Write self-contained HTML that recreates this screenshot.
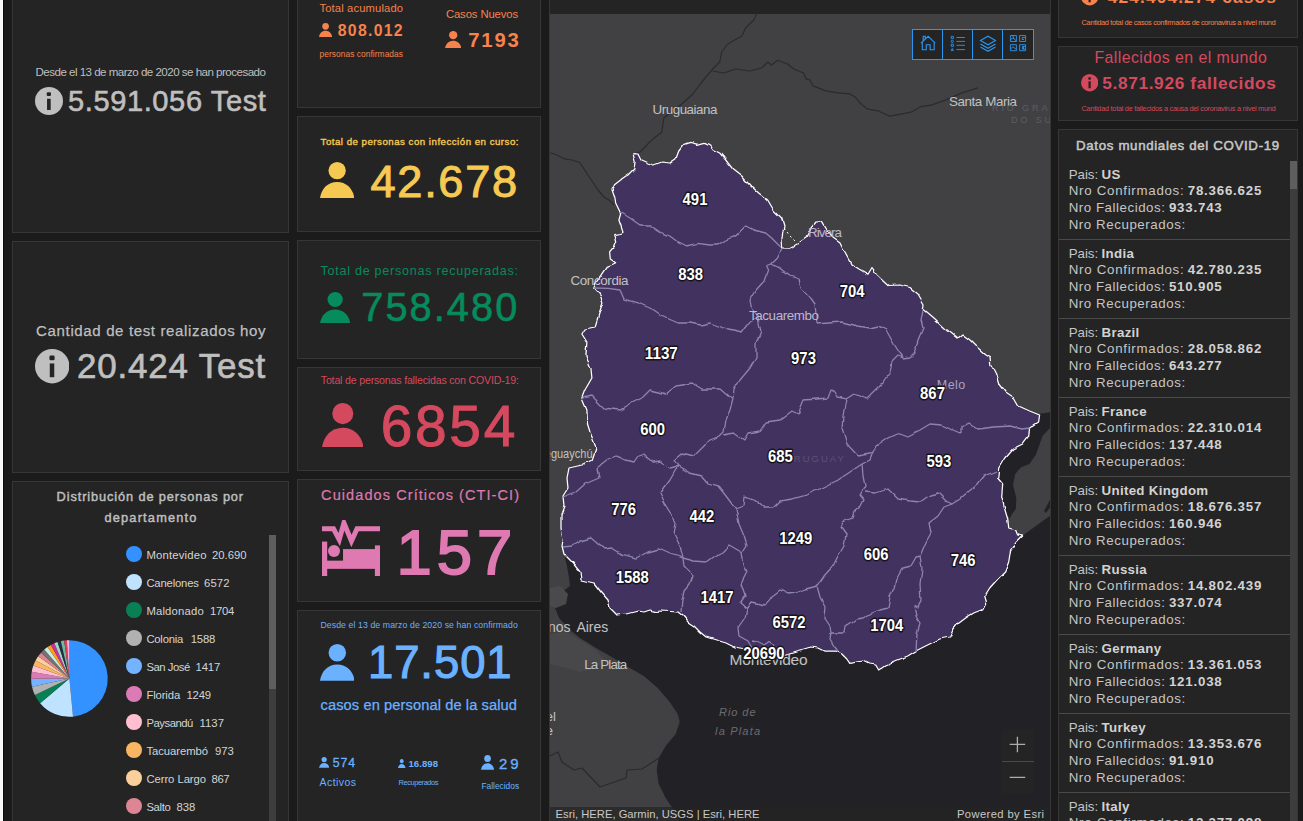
<!DOCTYPE html><html lang="es"><head><meta charset="utf-8"><title>COVID-19 Uruguay</title><style>

html,body{margin:0;padding:0;width:1303px;height:821px;overflow:hidden;background:#1b1b1b}
#app{width:1303px;height:821px;overflow:hidden;background:#1b1b1b;position:relative;font-family:"Liberation Sans", sans-serif;}
.edge{position:absolute;top:0;height:821px}
.panel{position:absolute;box-sizing:border-box;background:#242424;border:1px solid #363636}
.t{position:absolute;white-space:nowrap;line-height:1;margin:0}
.ic{position:absolute;display:block}
.dot{position:absolute;width:15.8px;height:15.8px;border-radius:50%}
.sb{position:absolute;width:7px}
.clip{position:absolute;overflow:hidden;top:0;height:821px}
#map{position:absolute;left:549px;top:-10px;width:502px;height:850px;box-sizing:border-box;border:1px solid #363636;background:#242424}
#map svg{position:absolute;left:0;top:23px}
.row{position:absolute;left:1059px;width:231px;height:79px;box-sizing:border-box;border-bottom:1px solid #4a4a4a;color:#c4c4c4;font-size:13px;line-height:17px;}
.row b{color:#d0d0d0}
.tool{position:absolute;left:912px;top:29px;width:122px;height:31px;box-sizing:border-box;border:1px solid #2b97f0;background:#242424}
.tool i{position:absolute;top:0;width:1px;height:29px;background:#2b97f0}
.zoom{position:absolute;left:1002px;top:729px;width:32px;height:64px;background:#242424}
.attr{position:absolute;left:550px;top:807px;width:500px;height:14px;background:rgba(36,36,36,.72)}

</style></head><body><div id="app">
<div class="edge" style="left:0;width:2px;background:#fafafa"></div><div class="edge" style="left:2px;width:1px;background:#fff"></div><div class="edge" style="left:3px;width:1px;background:#0b0b0b"></div>
<div class="panel" style="left:12px;top:-10px;width:277px;height:243px"></div>
<div class="panel" style="left:12px;top:241px;width:277px;height:232px"></div>
<div class="panel" style="left:12px;top:481px;width:277px;height:360px"></div>
<div class="panel" style="left:297px;top:-10px;width:244px;height:118px"></div>
<div class="panel" style="left:297px;top:116px;width:244px;height:116px"></div>
<div class="panel" style="left:297px;top:240px;width:244px;height:119px"></div>
<div class="panel" style="left:297px;top:367px;width:244px;height:104px"></div>
<div class="panel" style="left:297px;top:479px;width:244px;height:123px"></div>
<div class="panel" style="left:297px;top:610px;width:244px;height:230px"></div>
<div class="panel" style="left:1058px;top:-10px;width:240px;height:48px"></div>
<div class="panel" style="left:1058px;top:46px;width:240px;height:75px"></div>
<div class="panel" style="left:1058px;top:129px;width:240px;height:710px"></div>
<div id="map">
<svg width="500" height="807" viewBox="550 14 500 807">
<rect x="550" y="14" width="500" height="807" fill="#414143"/>
<polygon points="563.0,548.0 565.0,558.0 567.0,566.0 569.0,578.0 570.0,586.0 562.0,592.0 556.0,598.0 555.0,608.0 559.0,618.0 570.0,630.0 580.0,638.0 596.0,648.0 610.0,656.0 629.8,668.0 643.8,676.0 657.7,688.0 669.7,702.0 677.7,714.0 679.7,722.0 675.7,734.0 665.7,746.0 658.7,758.0 656.7,770.0 658.7,784.0 665.7,798.0 671.7,807.0 680.0,822.0 1051.0,822.0 1051.0,515.0 1022.0,536.0 1000.0,560.0 900.0,600.0 700.0,600.0 600.0,560.0" fill="#222226"/>
<polygon points="1038.0,414.0 1051.0,412.0 1051.0,427.0 1042.5,436.0 1039.0,446.0 1036.0,454.5 1029.4,464.0 1020.7,467.6 1015.2,474.0 1013.0,485.0 1016.3,498.0 1015.8,509.0 1012.0,514.0 1008.6,521.0 1004.0,508.0 1001.0,496.0 1002.0,484.0 997.0,478.0 998.0,468.0 1004.0,458.0 1012.0,449.0 1022.0,444.0 1028.0,436.0 1029.0,428.0" fill="#222226"/><polygon points="1044.0,511.0 1051.0,498.0 1051.0,506.0 1046.0,513.0" fill="#222226"/>
<polygon points="550,588 560,586 568,594 566,604 556,608 550,606" fill="#4a4a4c"/>
<polygon points="550,634 566,632 580,640 596,650 604,660 596,668 580,672 566,668 550,664" fill="#48484a"/>
<polyline points="756.7,14.0 753.7,20.0 745.7,28.0 741.7,36.0 727.7,44.0 721.7,52.0 719.7,62.0 712.7,69.0 701.8,82.0 692.8,94.0 681.8,104.0 663.8,118.0 661.8,132.0 651.8,140.0 639.9,152.0 633.9,154.0" fill="none" stroke="#2b2b2d" stroke-width="1.2" stroke-linejoin="round"/>
<polyline points="712.7,71.0 723.7,73.0 735.7,69.0 749.7,71.0 761.7,68.0 767.7,62.0 771.6,65.0 777.6,60.3 787.6,64.0 793.6,69.0 803.6,73.0 806.0,78.9 810.0,79.9 813.0,85.9 826.0,90.9 838.0,92.9 850.0,93.9 855.0,96.9 861.0,103.9 867.0,108.8 878.0,110.8 890.0,116.2 902.0,113.8 912.0,111.8 920.0,106.9 932.0,104.9 946.0,99.9 962.0,92.9 978.0,87.9" fill="none" stroke="#2b2b2d" stroke-width="1.2" stroke-linejoin="round"/>
<polyline points="550.0,152.7 557.0,155.0 564.0,158.8 572.0,160.0 580.0,162.8 586.0,172.0 592.0,181.0 598.0,190.0 604.0,197.0 609.0,200.0 614.0,205.0" fill="none" stroke="#2b2b2d" stroke-width="1.2" stroke-linejoin="round"/>
<polyline points="550.0,756.0 558.0,752.0 562.0,762.0 574.0,770.0 582.0,768.0 600.0,787.0 626.0,778.0 627.0,770.0 642.0,769.0 659.0,758.0" fill="none" stroke="#2b2b2d" stroke-width="1.2" stroke-linejoin="round"/>
<defs><filter id="jag" x="-2%" y="-2%" width="104%" height="104%"><feTurbulence type="fractalNoise" baseFrequency="0.1" numOctaves="1" seed="7" result="n"/><feDisplacementMap in="SourceGraphic" in2="n" scale="4.5" xChannelSelector="R" yChannelSelector="G"/></filter></defs>
<g filter="url(#jag)">
<polygon points="632.9,153.6 637.9,154.0 640.9,160.0 647.8,163.0 653.8,165.0 661.8,162.0 669.8,163.0 675.8,159.0 678.8,151.0 683.8,144.4 689.8,142.4 697.8,144.4 704.8,142.4 709.7,145.0 712.7,149.6 719.7,153.0 725.7,160.0 732.7,169.0 741.7,176.0 749.7,185.0 758.7,193.0 767.7,200.0 773.6,210.0 781.6,218.0 784.0,226.0 782.0,238.0 782.6,247.8 789.6,248.2 797.6,243.8 806.0,238.0 812.0,227.0 816.0,222.0 821.0,221.6 826.0,230.0 833.0,238.0 840.0,243.0 845.0,253.0 851.0,264.0 859.0,269.0 868.0,274.3 872.0,267.5 877.0,274.3 883.0,280.0 889.0,285.5 899.0,285.0 910.0,287.5 918.0,294.0 924.0,304.0 923.4,309.0 934.0,318.0 946.0,329.0 957.0,338.0 962.0,334.0 970.0,340.0 978.0,348.0 985.0,354.0 990.0,357.0 990.7,364.0 995.7,374.0 998.7,384.0 1005.7,393.0 1014.6,399.0 1018.6,406.0 1029.6,411.0 1039.6,415.0 1038.6,422.0 1029.6,428.0 1028.6,436.0 1022.6,444.0 1012.6,449.0 1004.7,458.0 998.7,468.0 997.7,478.0 1002.7,484.0 1001.7,496.0 1004.7,508.0 1007.7,518.0 1008.7,528.0 1015.6,530.0 1017.6,535.0 1021.6,536.0 1015.6,542.0 1010.6,550.0 1008.7,562.0 1004.7,572.0 997.7,579.0 989.7,588.0 984.7,596.0 986.7,603.0 983.7,609.0 973.7,613.0 965.7,618.0 957.7,624.0 953.0,630.0 949.7,637.0 939.7,639.0 925.6,646.0 915.7,651.0 907.7,656.0 897.7,660.0 885.7,665.0 878.7,670.0 875.7,665.0 869.7,664.0 863.7,661.0 855.8,662.0 849.8,663.4 846.8,659.0 841.8,654.0 835.8,651.0 823.8,651.0 817.8,648.0 810.8,647.0 803.8,649.0 795.8,651.0 787.9,653.5 783.9,654.5 775.0,656.0 766.0,657.0 758.0,655.0 750.0,651.0 742.9,648.5 734.0,647.0 726.0,643.0 716.0,640.0 706.0,637.0 700.0,632.0 694.0,626.0 688.0,622.0 683.0,616.0 678.0,612.0 662.0,611.0 656.0,611.5 650.0,610.0 644.0,612.0 638.0,611.0 626.0,614.0 617.0,615.0 610.0,608.0 608.0,600.0 601.0,592.0 594.0,583.0 581.0,580.0 580.0,572.0 572.0,562.0 564.0,554.0 562.0,546.0 563.0,540.0 561.0,528.0 561.0,514.0 564.0,506.0 563.0,496.0 568.0,488.0 567.0,478.0 569.0,468.0 582.0,465.0 592.0,460.0 596.0,448.0 594.0,442.0 590.0,432.0 587.5,424.0 586.9,410.0 581.9,398.0 584.9,390.0 591.9,378.0 590.9,368.0 585.9,356.0 586.9,342.0 581.9,334.0 584.9,329.0 594.9,327.0 598.9,314.0 602.9,302.0 599.9,295.0 597.4,292.0 593.8,288.3 596.2,282.3 602.3,273.7 607.2,266.4 613.3,264.0 615.7,262.8 610.3,259.0 609.6,251.8 613.7,247.0 615.7,242.0 613.7,234.7 619.3,233.5 623.0,232.3 620.6,225.0 618.9,220.0 620.6,214.0 619.3,210.4 615.7,203.0 614.5,197.0 612.0,189.7 614.5,184.8 620.6,180.0 627.9,175.0 633.9,169.0 635.2,161.7" fill="#43335f" stroke="#ffffff" stroke-width="1.25" stroke-linejoin="round"/>
<polyline points="619.9,212.0 629.9,218.0 639.9,225.0 649.8,225.0 659.8,232.0 669.8,236.0 677.8,242.0 685.8,246.0 697.8,243.4 709.7,245.0 717.7,245.0 725.7,240.0 735.7,236.0 741.7,230.0 745.7,226.0 753.7,230.0 765.7,233.0 771.6,238.0 777.6,244.0 782.0,248.0" fill="none" stroke="#8d84ae" stroke-width="1.3" stroke-linejoin="round"/>
<polyline points="782.0,248.0 777.6,258.0 771.6,264.0 766.6,266.0 768.6,270.0 765.0,280.0 756.0,290.0 750.0,300.0 751.0,306.0 758.0,318.0" fill="none" stroke="#8d84ae" stroke-width="1.3" stroke-linejoin="round"/>
<polyline points="771.6,264.0 779.6,268.0 789.6,276.0 799.0,279.0 801.0,288.0 810.0,297.0 815.0,304.0 816.0,316.0 817.0,324.0 828.0,323.0 842.0,322.0 858.0,326.0 870.0,328.0 878.0,326.0 886.0,330.0 894.0,344.0 899.0,352.0 904.0,358.0" fill="none" stroke="#8d84ae" stroke-width="1.3" stroke-linejoin="round"/>
<polyline points="923.4,309.0 921.0,320.0 923.0,328.0 918.0,340.0 915.0,348.0 916.0,352.0 910.0,358.0 904.0,359.0" fill="none" stroke="#8d84ae" stroke-width="1.3" stroke-linejoin="round"/>
<polyline points="904.0,358.0 898.0,356.0 892.0,362.0 890.0,373.0 884.0,382.0 876.0,390.0 867.0,399.0 854.0,394.0 846.0,399.0" fill="none" stroke="#8d84ae" stroke-width="1.3" stroke-linejoin="round"/>
<polyline points="846.0,399.0 838.0,397.0 835.0,392.0 831.0,390.0 828.0,398.0 816.0,399.0 804.0,400.0 798.0,414.0 792.0,411.0 780.0,420.0 766.0,422.0 760.0,431.0 748.0,433.0 744.0,440.0 734.0,433.0 724.0,435.0" fill="none" stroke="#8d84ae" stroke-width="1.3" stroke-linejoin="round"/>
<polyline points="846.0,399.0 843.0,416.0 842.0,428.0 847.0,444.0 858.0,456.0 870.0,454.0 873.0,452.0" fill="none" stroke="#8d84ae" stroke-width="1.3" stroke-linejoin="round"/>
<polyline points="873.0,452.0 876.0,446.0 888.0,438.0 900.0,433.0 908.0,436.0 920.0,430.0 930.0,424.0 942.0,425.0 954.0,431.0 961.0,434.0 961.0,426.0 968.0,422.0 978.0,429.0 994.0,427.0 1010.0,426.0 1022.0,429.0 1029.6,428.0" fill="none" stroke="#8d84ae" stroke-width="1.3" stroke-linejoin="round"/>
<polyline points="873.0,452.0 870.0,460.0 862.0,464.0 850.0,472.0 838.0,480.0 822.0,488.0 806.0,495.0 792.0,499.0 780.0,501.0 774.0,507.0 764.0,507.0 758.0,502.0 745.0,497.0 744.0,506.0 736.0,509.0" fill="none" stroke="#8d84ae" stroke-width="1.3" stroke-linejoin="round"/>
<polyline points="862.0,464.0 863.0,476.0 865.0,486.0 860.0,495.0 864.0,500.0 861.0,506.0 854.0,512.0 852.0,518.0 843.0,522.0 841.0,527.0 846.0,534.0 844.0,546.0 838.0,556.0 833.0,566.0 824.0,576.0 817.0,586.0" fill="none" stroke="#8d84ae" stroke-width="1.3" stroke-linejoin="round"/>
<polyline points="865.0,492.0 876.0,493.0 888.0,489.0 898.0,499.0 910.0,501.0 920.0,502.0 930.0,495.0 938.0,493.0 946.0,501.0 952.0,504.0 960.0,499.0 968.0,492.0 978.0,484.0 984.0,476.0 996.0,471.0" fill="none" stroke="#8d84ae" stroke-width="1.3" stroke-linejoin="round"/>
<polyline points="952.0,504.0 944.0,507.0 938.0,516.0 929.0,523.0 931.0,533.0 926.0,542.0 920.0,556.0" fill="none" stroke="#8d84ae" stroke-width="1.3" stroke-linejoin="round"/>
<polyline points="920.0,556.0 922.0,568.0 920.0,584.0 921.0,600.0 918.0,608.0 914.0,606.0 916.0,616.0 920.0,624.0 917.0,634.0 916.0,651.0" fill="none" stroke="#8d84ae" stroke-width="1.3" stroke-linejoin="round"/>
<polyline points="920.0,556.0 915.0,557.0 910.0,566.0 902.0,568.0 896.0,579.0 894.0,588.0 890.0,597.0 888.0,608.0 880.0,610.0 872.0,613.0 864.0,618.0 856.0,619.0 845.0,627.0 844.0,633.0 831.0,633.0" fill="none" stroke="#8d84ae" stroke-width="1.3" stroke-linejoin="round"/>
<polyline points="817.0,586.0 806.0,589.0 796.0,593.0 788.0,594.0 780.0,590.0 772.0,596.0 766.0,605.0 752.0,602.0 747.0,609.0" fill="none" stroke="#8d84ae" stroke-width="1.3" stroke-linejoin="round"/>
<polyline points="817.0,586.0 820.0,597.0 825.0,607.0 824.0,617.0 830.0,626.0 831.0,633.0 830.0,639.0 834.0,646.0 838.0,651.0" fill="none" stroke="#8d84ae" stroke-width="1.3" stroke-linejoin="round"/>
<polyline points="594.0,288.0 608.0,288.4 620.0,290.0 624.0,299.0 638.0,303.0 652.0,309.0 662.0,316.0 678.0,323.0 690.0,323.0 700.0,325.0 710.0,323.0 724.0,328.0 742.0,332.0 748.0,324.0 758.0,318.0" fill="none" stroke="#8d84ae" stroke-width="1.3" stroke-linejoin="round"/>
<polyline points="758.0,318.0 761.0,332.0 756.0,344.0 756.0,358.0 750.0,368.0 740.0,380.0 734.0,390.0 733.0,398.0" fill="none" stroke="#8d84ae" stroke-width="1.3" stroke-linejoin="round"/>
<polyline points="583.0,398.0 592.0,396.0 598.0,402.0 604.0,408.0 620.0,410.0 630.0,404.0 642.0,398.0 650.0,390.0 666.0,394.0 676.0,386.0 692.0,383.0 702.0,389.0 720.0,389.0 728.0,396.0 733.0,398.0" fill="none" stroke="#8d84ae" stroke-width="1.3" stroke-linejoin="round"/>
<polyline points="733.0,398.0 730.0,410.0 726.0,420.0 724.0,432.0 720.0,436.0 710.0,440.0 702.0,448.0 694.0,456.0 682.0,453.0 674.0,460.0 678.0,466.0" fill="none" stroke="#8d84ae" stroke-width="1.3" stroke-linejoin="round"/>
<polyline points="563.0,497.0 576.0,492.0 585.0,484.0 599.0,478.0 597.0,468.0 608.0,459.0 616.0,456.0 626.0,460.0 634.0,462.0 638.0,456.0 644.0,454.0 652.0,462.0 660.0,461.0 670.0,468.0 678.0,466.0" fill="none" stroke="#8d84ae" stroke-width="1.3" stroke-linejoin="round"/>
<polyline points="678.0,466.0 670.0,480.0 660.0,494.0 666.0,506.0 676.0,522.0 674.0,534.0 680.0,546.0 683.0,558.0" fill="none" stroke="#8d84ae" stroke-width="1.3" stroke-linejoin="round"/>
<polyline points="678.0,466.0 690.0,473.0 702.0,476.0 708.0,483.0 718.0,486.0 726.0,496.0 732.0,504.0 736.0,509.0" fill="none" stroke="#8d84ae" stroke-width="1.3" stroke-linejoin="round"/>
<polyline points="736.0,509.0 739.0,524.0 744.0,536.0 747.0,546.0 742.0,554.0" fill="none" stroke="#8d84ae" stroke-width="1.3" stroke-linejoin="round"/>
<polyline points="742.0,554.0 744.0,564.0 747.0,572.0 741.0,584.0 745.0,596.0 740.0,603.0 747.0,609.0" fill="none" stroke="#8d84ae" stroke-width="1.3" stroke-linejoin="round"/>
<polyline points="683.0,558.0 694.0,561.0 706.0,562.0 714.0,556.0 722.0,552.0 729.0,545.0 736.0,549.0 743.0,553.0" fill="none" stroke="#8d84ae" stroke-width="1.3" stroke-linejoin="round"/>
<polyline points="563.0,547.0 572.0,546.0 580.0,541.0 591.0,538.0 598.0,544.0 604.0,549.0 612.0,548.0 622.0,554.0 636.0,558.0 648.0,552.0 659.0,549.0 670.0,554.0 683.0,558.0" fill="none" stroke="#8d84ae" stroke-width="1.3" stroke-linejoin="round"/>
<polyline points="683.0,558.0 684.0,566.0 693.0,575.0 690.0,583.0 684.0,590.0 682.0,600.0 681.0,612.0" fill="none" stroke="#8d84ae" stroke-width="1.3" stroke-linejoin="round"/>
<polyline points="747.0,609.0 745.0,618.0 738.0,628.0 739.0,636.0 748.0,641.0 752.0,648.0" fill="none" stroke="#8d84ae" stroke-width="1.3" stroke-linejoin="round"/>
<polyline points="752.0,641.0 758.0,642.0 764.0,645.0 769.0,641.5 773.0,644.0 775.0,649.0 778.0,655.0" fill="none" stroke="#8d84ae" stroke-width="1.3" stroke-linejoin="round"/>
</g>
<polyline points="784,228 790,236 797,243" fill="none" stroke="#fff" stroke-width="1" stroke-dasharray="2,3"/>
<g font-family="Liberation Sans, sans-serif" fill="#c2c2c2">
<text x="652.5" y="113.7" font-size="13.4" textLength="65" lengthAdjust="spacing">Uruguaiana</text>
<text x="949" y="105.7" font-size="13.4" textLength="68" lengthAdjust="spacing">Santa Maria</text>
<text x="992" y="110.5" font-size="9" fill="#5e5e60" letter-spacing="2.9">RIO GRANDE</text>
<text x="1011" y="123" font-size="9" fill="#5e5e60" letter-spacing="2.9">DO SUL</text>
<text x="570.5" y="284.6" font-size="13.4" textLength="58" lengthAdjust="spacing">Concordia</text>
<text x="521.5" y="458" font-size="13.4" textLength="71" lengthAdjust="spacingAndGlyphs">Gualeguaychú</text>
<text x="523" y="631.9" font-size="15" textLength="85.3" lengthAdjust="spacingAndGlyphs" word-spacing="3">Buenos Aires</text>
<text x="584.3" y="669" font-size="13.4" textLength="43" lengthAdjust="spacing">La Plata</text>
<text x="556" y="721" font-size="13" text-anchor="end">del</text>
<text x="553" y="735" font-size="13" text-anchor="end">e</text>
<text x="719" y="716" font-size="11" fill="#6c6c70" font-style="italic" textLength="36.5" lengthAdjust="spacing">Rio de</text>
<text x="715" y="735" font-size="11" fill="#6c6c70" font-style="italic" textLength="45" lengthAdjust="spacing">la Plata</text>
</g>
<g font-family="Liberation Sans, sans-serif" fill="#bdb8cc">
<text x="808" y="237" font-size="13.4" textLength="34" lengthAdjust="spacing">Rivera</text>
<text x="749" y="320.3" font-size="13.4" textLength="70" lengthAdjust="spacing">Tacuarembo</text>
<text x="936.8" y="388.9" font-size="12.5" fill="#a8a2be" textLength="28.5" lengthAdjust="spacing">Melo</text>
<text x="785" y="461.8" font-size="9.5" fill="#5e5078" letter-spacing="2">URUGUAY</text>
<text x="729.6" y="664.8" font-size="15.5" fill="#c2c2c2" textLength="78" lengthAdjust="spacing">Montevideo</text>
</g>
<g font-family="Liberation Sans, sans-serif" font-weight="bold" font-size="16.6" fill="#fff" stroke="#15131c" stroke-width="2.8" stroke-linejoin="round" paint-order="stroke" text-anchor="middle">
<text x="695" y="204.7" textLength="24.8" lengthAdjust="spacingAndGlyphs">491</text>
<text x="690.6" y="279.5" textLength="24.8" lengthAdjust="spacingAndGlyphs">838</text>
<text x="852.2" y="296.5" textLength="24.8" lengthAdjust="spacingAndGlyphs">704</text>
<text x="803.5" y="363.7" textLength="24.8" lengthAdjust="spacingAndGlyphs">973</text>
<text x="932.5" y="399.2" textLength="24.8" lengthAdjust="spacingAndGlyphs">867</text>
<text x="938.9" y="466.9" textLength="24.8" lengthAdjust="spacingAndGlyphs">593</text>
<text x="661.3" y="359.2" textLength="33.0" lengthAdjust="spacingAndGlyphs">1137</text>
<text x="652.6" y="434.5" textLength="24.8" lengthAdjust="spacingAndGlyphs">600</text>
<text x="780.4" y="462.2" textLength="24.8" lengthAdjust="spacingAndGlyphs">685</text>
<text x="623.7" y="515.1" textLength="24.8" lengthAdjust="spacingAndGlyphs">776</text>
<text x="701.8" y="522.1" textLength="24.8" lengthAdjust="spacingAndGlyphs">442</text>
<text x="795.8" y="544.0" textLength="33.0" lengthAdjust="spacingAndGlyphs">1249</text>
<text x="876.2" y="560.2" textLength="24.8" lengthAdjust="spacingAndGlyphs">606</text>
<text x="963.2" y="565.6" textLength="24.8" lengthAdjust="spacingAndGlyphs">746</text>
<text x="632.2" y="582.6" textLength="33.0" lengthAdjust="spacingAndGlyphs">1588</text>
<text x="717" y="602.6" textLength="33.0" lengthAdjust="spacingAndGlyphs">1417</text>
<text x="789.1" y="628.2" textLength="33.0" lengthAdjust="spacingAndGlyphs">6572</text>
<text x="886.7" y="630.6" textLength="33.0" lengthAdjust="spacingAndGlyphs">1704</text>
<text x="763.9" y="658.5" textLength="41.2" lengthAdjust="spacingAndGlyphs">20690</text>
</g></svg></div>
<div class="tool"><i style="left:29px"></i><i style="left:59px"></i><i style="left:89px"></i><svg class="ic" style="left:0;top:0" width="120" height="29" viewBox="913 30 120 29" fill="none" stroke="#2b97f0" stroke-width="1.1"><path d="M921,43.2 L928.2,36.3 L935.2,43.2 M922.3,42 V49.8 H926.3 V44.8 H930.1 V49.8 H934.2 V42 M923.2,41 V36.3 H925.3 V39"/><g stroke-width="0.9"><path d="M951.2,36.4 h2.2 v2.2 h-2.2z M951.2,44.2 h2.2 v2.2 h-2.2z M956.4,37.5 H965 M956.4,41.4 H965 M956.4,45.3 H965 M956.4,49.6 H965"/><circle cx="952.3" cy="41.4" r="1.1"/><path d="M951.2,50.6 L952.3,48.4 L953.4,50.6 Z"/></g><path d="M980.5,40.5 L988,36.2 L995.5,40.5 L988,44.8 Z M980.5,44 L988,48.3 L995.5,44 M980.5,47 L988,51.3 L995.5,47"/><g stroke-width="0.9"><path d="M1010.4,35.5 h6 v6 h-6z M1019.6,35.5 h6 v6 h-6z M1010.4,44.7 h6 v6 h-6z M1019.6,44.7 h6 v6 h-6z M1010.4,39.5 l2.5,-1.5 l3.5,3 M1012.5,35.5 l1.5,3 M1025.6,37.5 h-3.5 v2 h2 M1010.6,49 l2.2,-2.2 l3.4,2.4 M1025.6,46.5 h-3.2 v2.6 h3.2 M1023.5,46.5 v2.6"/></g></svg></div>
<div class="zoom"><svg class="ic" style="left:0;top:0" width="32" height="64" viewBox="0 0 32 64" stroke="#adadad" stroke-width="1.3" fill="none"><path d="M7.7,15.4 H23.2 M15.4,7.7 V23.2 M7.7,48.3 H23.2"/><path d="M0,32.5 H32" stroke="#4a4a4a" stroke-width="1"/></svg></div>
<div class="attr"></div>
<svg class="ic" style="left:34.5px;top:87px" width="28" height="28" viewBox="0 0 100 100"><circle cx="50" cy="50" r="50" fill="#bfbfbf"/><rect x="42" y="19" width="15" height="13.5" rx="3.5" fill="#242424"/><rect x="43" y="42" width="13" height="40" fill="#242424"/></svg>
<svg class="ic" style="left:34.8px;top:349.3px" width="34.4" height="34.4" viewBox="0 0 100 100"><circle cx="50" cy="50" r="50" fill="#bfbfbf"/><rect x="42" y="19" width="15" height="13.5" rx="3.5" fill="#242424"/><rect x="43" y="42" width="13" height="40" fill="#242424"/></svg>
<svg class="ic" style="left:1080.8px;top:-11.899999999999999px" width="17.4" height="17.4" viewBox="0 0 100 100"><circle cx="50" cy="50" r="50" fill="#f7824b"/><rect x="42" y="19" width="15" height="13.5" rx="3.5" fill="#242424"/><rect x="43" y="42" width="13" height="40" fill="#242424"/></svg>
<svg class="ic" style="left:1080.7px;top:74.2px" width="17.4" height="17.4" viewBox="0 0 100 100"><circle cx="50" cy="50" r="50" fill="#d5495f"/><rect x="42" y="19" width="15" height="13.5" rx="3.5" fill="#242424"/><rect x="43" y="42" width="13" height="40" fill="#242424"/></svg>
<svg class="ic" style="left:319px;top:22.5px" width="13.2" height="14" viewBox="0 0 34 36" preserveAspectRatio="none"><circle cx="17" cy="8.6" r="8.6" fill="#f7824b"/><path d="M0,36 C1.2,27 7.5,20 17,20 C26.5,20 32.8,27 34,36 Z" fill="#f7824b"/></svg>
<svg class="ic" style="left:445px;top:30.9px" width="16.4" height="17.4" viewBox="0 0 34 36" preserveAspectRatio="none"><circle cx="17" cy="8.6" r="8.6" fill="#f7824b"/><path d="M0,36 C1.2,27 7.5,20 17,20 C26.5,20 32.8,27 34,36 Z" fill="#f7824b"/></svg>
<svg class="ic" style="left:319.8px;top:161.9px" width="34.3" height="36.1" viewBox="0 0 34 36" preserveAspectRatio="none"><circle cx="17" cy="8.6" r="8.6" fill="#f6c953"/><path d="M0,36 C1.2,27 7.5,20 17,20 C26.5,20 32.8,27 34,36 Z" fill="#f6c953"/></svg>
<svg class="ic" style="left:319.5px;top:291.5px" width="30.3" height="31.5" viewBox="0 0 34 36" preserveAspectRatio="none"><circle cx="17" cy="8.6" r="8.6" fill="#068b5c"/><path d="M0,36 C1.2,27 7.5,20 17,20 C26.5,20 32.8,27 34,36 Z" fill="#068b5c"/></svg>
<svg class="ic" style="left:321.9px;top:402.5px" width="41.6" height="44.4" viewBox="0 0 34 36" preserveAspectRatio="none"><circle cx="17" cy="8.6" r="8.6" fill="#d5495f"/><path d="M0,36 C1.2,27 7.5,20 17,20 C26.5,20 32.8,27 34,36 Z" fill="#d5495f"/></svg>
<svg class="ic" style="left:319.5px;top:644px" width="34.6" height="36.7" viewBox="0 0 34 36" preserveAspectRatio="none"><circle cx="17" cy="8.6" r="8.6" fill="#6ab1ff"/><path d="M0,36 C1.2,27 7.5,20 17,20 C26.5,20 32.8,27 34,36 Z" fill="#6ab1ff"/></svg>
<svg class="ic" style="left:318.9px;top:757.2px" width="10.3" height="10.8" viewBox="0 0 34 36" preserveAspectRatio="none"><circle cx="17" cy="8.6" r="8.6" fill="#6ab1ff"/><path d="M0,36 C1.2,27 7.5,20 17,20 C26.5,20 32.8,27 34,36 Z" fill="#6ab1ff"/></svg>
<svg class="ic" style="left:398.1px;top:758.5px" width="7.5" height="9" viewBox="0 0 34 36" preserveAspectRatio="none"><circle cx="17" cy="8.6" r="8.6" fill="#6ab1ff"/><path d="M0,36 C1.2,27 7.5,20 17,20 C26.5,20 32.8,27 34,36 Z" fill="#6ab1ff"/></svg>
<svg class="ic" style="left:480.9px;top:754.9px" width="13.1" height="14.8" viewBox="0 0 34 36" preserveAspectRatio="none"><circle cx="17" cy="8.6" r="8.6" fill="#6ab1ff"/><path d="M0,36 C1.2,27 7.5,20 17,20 C26.5,20 32.8,27 34,36 Z" fill="#6ab1ff"/></svg>
<svg class="ic" style="left:321.9px;top:520.1px" width="58.1" height="56.2" viewBox="0 0 58 56" preserveAspectRatio="none"><polyline points="0,8.7 11.5,8.7 17.2,19.5 21.9,3 29.4,21 35,8.7 58,8.7" fill="none" stroke="#de79b1" stroke-width="5" stroke-linejoin="miter"/><rect x="0" y="21.5" width="5.2" height="34.5" fill="#de79b1"/><rect x="52.8" y="25.3" width="5.2" height="30.7" fill="#de79b1"/><rect x="5" y="40.5" width="48" height="8.2" fill="#de79b1"/><rect x="21" y="29" width="32" height="12" fill="#de79b1"/><circle cx="12" cy="31" r="6" fill="#de79b1"/></svg>
<svg class="ic" style="left:25px;top:635px" width="90" height="90" viewBox="25 635 90 90"><path d="M69.4,678.5 L69.40,640.20 A38.3,38.3 0 0 1 73.05,716.63 Z" fill="#3392ff"/><path d="M69.4,678.5 L73.05,716.63 A38.3,38.3 0 0 1 40.08,703.14 Z" fill="#bfe2ff"/><path d="M69.4,678.5 L40.08,703.14 A38.3,38.3 0 0 1 34.88,695.09 Z" fill="#087f55"/><path d="M69.4,678.5 L34.88,695.09 A38.3,38.3 0 0 1 31.97,686.64 Z" fill="#b1b1b1"/><path d="M69.4,678.5 L31.97,686.64 A38.3,38.3 0 0 1 31.10,678.71 Z" fill="#73b3ff"/><path d="M69.4,678.5 L31.10,678.71 A38.3,38.3 0 0 1 31.71,671.70 Z" fill="#dc7ab5"/><path d="M69.4,678.5 L31.71,671.70 A38.3,38.3 0 0 1 33.37,665.52 Z" fill="#ffbfd0"/><path d="M69.4,678.5 L33.37,665.52 A38.3,38.3 0 0 1 35.59,660.51 Z" fill="#f9b562"/><path d="M69.4,678.5 L35.59,660.51 A38.3,38.3 0 0 1 38.15,656.35 Z" fill="#fbcf9b"/><path d="M69.4,678.5 L38.15,656.35 A38.3,38.3 0 0 1 41.12,652.67 Z" fill="#de8595"/><path d="M69.4,678.5 L41.12,652.67 A38.3,38.3 0 0 1 44.25,649.62 Z" fill="#737373"/><path d="M69.4,678.5 L44.25,649.62 A38.3,38.3 0 0 1 47.56,647.04 Z" fill="#c9ecde"/><path d="M69.4,678.5 L47.56,647.04 A38.3,38.3 0 0 1 50.94,644.94 Z" fill="#fc9d1d"/><path d="M69.4,678.5 L50.94,644.94 A38.3,38.3 0 0 1 54.41,643.26 Z" fill="#c9309c"/><path d="M69.4,678.5 L54.41,643.26 A38.3,38.3 0 0 1 57.61,642.06 Z" fill="#9cd9c4"/><path d="M69.4,678.5 L57.61,642.06 A38.3,38.3 0 0 1 60.87,641.16 Z" fill="#252c42"/><path d="M69.4,678.5 L60.87,641.16 A38.3,38.3 0 0 1 64.16,640.56 Z" fill="#6fb9a1"/><path d="M69.4,678.5 L64.16,640.56 A38.3,38.3 0 0 1 66.91,640.28 Z" fill="#d94055"/><path d="M69.4,678.5 L66.91,640.28 A38.3,38.3 0 0 1 69.40,640.20 Z" fill="#ffb3e1"/></svg>
<div class="dot" style="left:125.9px;top:546.3px;background:#3392ff"></div>
<div class="dot" style="left:125.9px;top:574.3px;background:#bfe2ff"></div>
<div class="dot" style="left:125.9px;top:602.3px;background:#087f55"></div>
<div class="dot" style="left:125.9px;top:630.3px;background:#b1b1b1"></div>
<div class="dot" style="left:125.9px;top:658.3px;background:#73b3ff"></div>
<div class="dot" style="left:125.9px;top:686.3px;background:#dc7ab5"></div>
<div class="dot" style="left:125.9px;top:714.3px;background:#ffbfd0"></div>
<div class="dot" style="left:125.9px;top:742.3px;background:#f9b562"></div>
<div class="dot" style="left:125.9px;top:770.3px;background:#fbcf9b"></div>
<div class="dot" style="left:125.9px;top:798.3px;background:#de8595"></div>
<div class="sb" style="left:269px;top:535px;height:286px;background:#3d3d3d"></div><div class="sb" style="left:269px;top:535px;height:154px;background:#5e5e5e"></div>
<div class="sb" style="left:1290px;top:161px;height:660px;background:#3d3d3d"></div><div class="sb" style="left:1290px;top:161px;height:28px;background:#5e5e5e"></div>
<div class="row" style="top:161px"></div>
<div class="row" style="top:240px"></div>
<div class="row" style="top:319px"></div>
<div class="row" style="top:398px"></div>
<div class="row" style="top:477px"></div>
<div class="row" style="top:556px"></div>
<div class="row" style="top:635px"></div>
<div class="row" style="top:714px"></div>
<div class="row" style="top:793px"></div>
<div class="t" style="left:35.50px;top:66.28px;font-size:11.6px;color:#bfbfbf;letter-spacing:-0.534px;">Desde el 13 de marzo de 2020 se han procesado</div>
<div class="t" style="left:68.00px;top:87.10px;font-size:29.06px;color:#bfbfbf;-webkit-text-stroke:0.6px #bfbfbf;letter-spacing:0.601px;">5.591.056 Test</div>
<div class="t" style="left:36.12px;top:323.04px;font-size:15.05px;color:#bfbfbf;-webkit-text-stroke:0.25px #bfbfbf;letter-spacing:0.623px;">Cantidad de test realizados hoy</div>
<div class="t" style="left:76.95px;top:348.89px;font-size:34.92px;color:#bfbfbf;-webkit-text-stroke:0.7px #bfbfbf;letter-spacing:0.852px;">20.424 Test</div>
<div class="t" style="left:56.62px;top:491.27px;font-size:12.77px;color:#bfbfbf;-webkit-text-stroke:0.45px #bfbfbf;letter-spacing:0.889px;">Distribución de personas por</div>
<div class="t" style="left:104.42px;top:511.97px;font-size:12.77px;color:#bfbfbf;-webkit-text-stroke:0.45px #bfbfbf;letter-spacing:1.207px;">departamento</div>
<div class="t" style="left:146.40px;top:550.03px;font-size:11.3px;color:#d4d4d4;letter-spacing:0.187px;">Montevideo</div>
<div class="t" style="left:211.90px;top:550.03px;font-size:11.3px;color:#d4d4d4;letter-spacing:0.026px;">20.690</div>
<div class="t" style="left:146.40px;top:578.03px;font-size:11.3px;color:#d4d4d4;letter-spacing:-0.183px;">Canelones</div>
<div class="t" style="left:204.00px;top:578.03px;font-size:11.3px;color:#d4d4d4;letter-spacing:0.117px;">6572</div>
<div class="t" style="left:146.40px;top:606.03px;font-size:11.3px;color:#d4d4d4;letter-spacing:0.173px;">Maldonado</div>
<div class="t" style="left:210.00px;top:606.03px;font-size:11.3px;color:#d4d4d4;letter-spacing:-0.316px;">1704</div>
<div class="t" style="left:146.40px;top:634.03px;font-size:11.3px;color:#d4d4d4;letter-spacing:-0.238px;">Colonia</div>
<div class="t" style="left:190.70px;top:634.03px;font-size:11.3px;color:#d4d4d4;letter-spacing:-0.149px;">1588</div>
<div class="t" style="left:146.40px;top:662.03px;font-size:11.3px;color:#d4d4d4;letter-spacing:-0.474px;">San José</div>
<div class="t" style="left:195.60px;top:662.03px;font-size:11.3px;color:#d4d4d4;letter-spacing:-0.149px;">1417</div>
<div class="t" style="left:146.40px;top:690.03px;font-size:11.3px;color:#d4d4d4;letter-spacing:-0.125px;">Florida</div>
<div class="t" style="left:186.50px;top:690.03px;font-size:11.3px;color:#d4d4d4;letter-spacing:-0.216px;">1249</div>
<div class="t" style="left:146.40px;top:718.03px;font-size:11.3px;color:#d4d4d4;letter-spacing:-0.466px;">Paysandú</div>
<div class="t" style="left:199.50px;top:718.03px;font-size:11.3px;color:#d4d4d4;letter-spacing:0.063px;">1137</div>
<div class="t" style="left:146.40px;top:746.03px;font-size:11.3px;color:#d4d4d4;letter-spacing:-0.054px;">Tacuarembó</div>
<div class="t" style="left:215.10px;top:746.03px;font-size:11.3px;color:#d4d4d4;letter-spacing:-0.083px;">973</div>
<div class="t" style="left:146.40px;top:774.03px;font-size:11.3px;color:#d4d4d4;letter-spacing:-0.060px;">Cerro Largo</div>
<div class="t" style="left:211.50px;top:774.03px;font-size:11.3px;color:#d4d4d4;letter-spacing:-0.383px;">867</div>
<div class="t" style="left:146.40px;top:802.03px;font-size:11.3px;color:#d4d4d4;letter-spacing:-0.317px;">Salto</div>
<div class="t" style="left:176.50px;top:802.03px;font-size:11.3px;color:#d4d4d4;letter-spacing:0.017px;">838</div>
<div class="t" style="left:319.50px;top:2.72px;font-size:11.2px;color:#f7824b;letter-spacing:0.147px;">Total acumulado</div>
<div class="t" style="left:337.80px;top:23.03px;font-size:15.8px;color:#f7824b;font-weight:bold;letter-spacing:1.281px;">808.012</div>
<div class="t" style="left:319.50px;top:50.39px;font-size:8.4px;color:#f7824b;letter-spacing:0.057px;">personas confirmadas</div>
<div class="t" style="left:445.90px;top:8.83px;font-size:11.3px;color:#f7824b;letter-spacing:-0.110px;">Casos Nuevos</div>
<div class="t" style="left:468.30px;top:30.32px;font-size:20.3px;color:#f7824b;font-weight:bold;letter-spacing:1.787px;">7193</div>
<div class="t" style="left:320.57px;top:137.01px;font-size:9.71px;color:#f6c953;-webkit-text-stroke:0.35px #f6c953;letter-spacing:0.485px;">Total de personas con infección en curso:</div>
<div class="t" style="left:370.50px;top:158.94px;font-size:45.2px;color:#f6c953;-webkit-text-stroke:1.0px #f6c953;letter-spacing:1.684px;">42.678</div>
<div class="t" style="left:320.40px;top:264.53px;font-size:12.6px;color:#068b5c;letter-spacing:0.734px;">Total de personas recuperadas:</div>
<div class="t" style="left:361.30px;top:287.74px;font-size:39.76px;color:#068b5c;-webkit-text-stroke:0.6px #068b5c;letter-spacing:2.053px;">758.480</div>
<div class="t" style="left:320.80px;top:375.23px;font-size:10.6px;color:#d5495f;letter-spacing:-0.180px;">Total de personas fallecidas con COVID-19:</div>
<div class="t" style="left:380.70px;top:398.13px;font-size:56.9px;color:#d5495f;-webkit-text-stroke:1.0px #d5495f;letter-spacing:2.693px;">6854</div>
<div class="t" style="left:321.10px;top:488.41px;font-size:14.52px;color:#de79b1;-webkit-text-stroke:0.2px #de79b1;letter-spacing:1.078px;">Cuidados Críticos (CTI-CI)</div>
<div class="t" style="left:396.50px;top:520.76px;font-size:63.49px;color:#de79b1;-webkit-text-stroke:1.8px #de79b1;letter-spacing:4.943px;">157</div>
<div class="t" style="left:320.40px;top:620.84px;font-size:8.7px;color:#6ab1ff;letter-spacing:0.105px;">Desde el 13 de marzo de 2020 se han confirmado</div>
<div class="t" style="left:367.95px;top:640.17px;font-size:45.46px;color:#6ab1ff;-webkit-text-stroke:1.1px #6ab1ff;letter-spacing:0.931px;">17.501</div>
<div class="t" style="left:320.52px;top:698.27px;font-size:14.65px;color:#6ab1ff;-webkit-text-stroke:0.25px #6ab1ff;letter-spacing:0.099px;">casos en personal de la salud</div>
<div class="t" style="left:332.75px;top:756.64px;font-size:12.18px;color:#6ab1ff;-webkit-text-stroke:0.3px #6ab1ff;letter-spacing:0.981px;">574</div>
<div class="t" style="left:319.50px;top:776.91px;font-size:10.5px;color:#6ab1ff;letter-spacing:0.451px;">Activos</div>
<div class="t" style="left:408.40px;top:758.97px;font-size:9.6px;color:#6ab1ff;font-weight:bold;letter-spacing:0.078px;">16.898</div>
<div class="t" style="left:398.50px;top:778.64px;font-size:7.4px;color:#6ab1ff;letter-spacing:-0.397px;">Recuperados</div>
<div class="t" style="left:499.05px;top:756.47px;font-size:14.98px;color:#6ab1ff;-webkit-text-stroke:0.3px #6ab1ff;letter-spacing:2.975px;">29</div>
<div class="t" style="left:481.50px;top:781.89px;font-size:8.4px;color:#6ab1ff;letter-spacing:-0.013px;">Fallecidos</div>
<div class="t" style="left:1107.70px;top:-11.34px;font-size:17.3px;color:#f7824b;font-weight:bold;letter-spacing:1.144px;">424.404.274 casos</div>
<div class="clip" style="left:1081px;width:195.29999999999995px"><div class="t" style="left:0.60px;top:18.94px;font-size:7.4px;color:#f7824b;letter-spacing:-0.321px;">Cantidad total de casos confirmados de coronavirus a nivel mundial</div></div>
<div class="t" style="left:1094.40px;top:49.94px;font-size:15.9px;color:#d5495f;letter-spacing:0.430px;">Fallecidos en el mundo</div>
<div class="t" style="left:1102.20px;top:74.86px;font-size:17.3px;color:#d5495f;font-weight:bold;letter-spacing:0.648px;">5.871.926 fallecidos</div>
<div class="clip" style="left:1081px;width:195.29999999999995px"><div class="t" style="left:0.60px;top:104.82px;font-size:7.3px;color:#d5495f;letter-spacing:-0.252px;">Cantidad total de fallecidos a causa del coronavirus a nivel mundial</div></div>
<div class="t" style="left:1076.05px;top:138.69px;font-size:13.3px;color:#c8c8c8;-webkit-text-stroke:0.5px #c8c8c8;letter-spacing:0.652px;">Datos mundiales del COVID-19</div>
<div class="t" style="left:1068.70px;top:167.54px;font-size:13.3px;color:#c6c6c6;letter-spacing:-0.017px;">Pais:</div>
<div class="t" style="left:1101.60px;top:167.54px;font-size:13.3px;color:#d2d2d2;font-weight:bold;letter-spacing:0.300px;">US</div>
<div class="t" style="left:1068.70px;top:184.44px;font-size:13.3px;color:#c6c6c6;letter-spacing:0.720px;">Nro Confirmados:</div>
<div class="t" style="left:1187.70px;top:184.44px;font-size:13.3px;color:#d2d2d2;font-weight:bold;letter-spacing:0.794px;">78.366.625</div>
<div class="t" style="left:1068.70px;top:201.34px;font-size:13.3px;color:#c6c6c6;letter-spacing:0.537px;">Nro Fallecidos:</div>
<div class="t" style="left:1168.90px;top:201.34px;font-size:13.3px;color:#d2d2d2;font-weight:bold;letter-spacing:0.794px;">933.743</div>
<div class="t" style="left:1068.70px;top:218.24px;font-size:13.3px;color:#c6c6c6;letter-spacing:0.566px;">Nro Recuperados:</div>
<div class="t" style="left:1068.70px;top:246.54px;font-size:13.3px;color:#c6c6c6;letter-spacing:-0.017px;">Pais:</div>
<div class="t" style="left:1101.60px;top:246.54px;font-size:13.3px;color:#d2d2d2;font-weight:bold;letter-spacing:0.300px;">India</div>
<div class="t" style="left:1068.70px;top:263.44px;font-size:13.3px;color:#c6c6c6;letter-spacing:0.720px;">Nro Confirmados:</div>
<div class="t" style="left:1187.70px;top:263.44px;font-size:13.3px;color:#d2d2d2;font-weight:bold;letter-spacing:0.794px;">42.780.235</div>
<div class="t" style="left:1068.70px;top:280.34px;font-size:13.3px;color:#c6c6c6;letter-spacing:0.537px;">Nro Fallecidos:</div>
<div class="t" style="left:1168.90px;top:280.34px;font-size:13.3px;color:#d2d2d2;font-weight:bold;letter-spacing:0.794px;">510.905</div>
<div class="t" style="left:1068.70px;top:297.24px;font-size:13.3px;color:#c6c6c6;letter-spacing:0.566px;">Nro Recuperados:</div>
<div class="t" style="left:1068.70px;top:325.54px;font-size:13.3px;color:#c6c6c6;letter-spacing:-0.017px;">Pais:</div>
<div class="t" style="left:1101.60px;top:325.54px;font-size:13.3px;color:#d2d2d2;font-weight:bold;letter-spacing:0.300px;">Brazil</div>
<div class="t" style="left:1068.70px;top:342.44px;font-size:13.3px;color:#c6c6c6;letter-spacing:0.720px;">Nro Confirmados:</div>
<div class="t" style="left:1187.70px;top:342.44px;font-size:13.3px;color:#d2d2d2;font-weight:bold;letter-spacing:0.794px;">28.058.862</div>
<div class="t" style="left:1068.70px;top:359.34px;font-size:13.3px;color:#c6c6c6;letter-spacing:0.537px;">Nro Fallecidos:</div>
<div class="t" style="left:1168.90px;top:359.34px;font-size:13.3px;color:#d2d2d2;font-weight:bold;letter-spacing:0.794px;">643.277</div>
<div class="t" style="left:1068.70px;top:376.24px;font-size:13.3px;color:#c6c6c6;letter-spacing:0.566px;">Nro Recuperados:</div>
<div class="t" style="left:1068.70px;top:404.54px;font-size:13.3px;color:#c6c6c6;letter-spacing:-0.017px;">Pais:</div>
<div class="t" style="left:1101.60px;top:404.54px;font-size:13.3px;color:#d2d2d2;font-weight:bold;letter-spacing:0.300px;">France</div>
<div class="t" style="left:1068.70px;top:421.44px;font-size:13.3px;color:#c6c6c6;letter-spacing:0.720px;">Nro Confirmados:</div>
<div class="t" style="left:1187.70px;top:421.44px;font-size:13.3px;color:#d2d2d2;font-weight:bold;letter-spacing:0.794px;">22.310.014</div>
<div class="t" style="left:1068.70px;top:438.34px;font-size:13.3px;color:#c6c6c6;letter-spacing:0.537px;">Nro Fallecidos:</div>
<div class="t" style="left:1168.90px;top:438.34px;font-size:13.3px;color:#d2d2d2;font-weight:bold;letter-spacing:0.794px;">137.448</div>
<div class="t" style="left:1068.70px;top:455.24px;font-size:13.3px;color:#c6c6c6;letter-spacing:0.566px;">Nro Recuperados:</div>
<div class="t" style="left:1068.70px;top:483.54px;font-size:13.3px;color:#c6c6c6;letter-spacing:-0.017px;">Pais:</div>
<div class="t" style="left:1101.60px;top:483.54px;font-size:13.3px;color:#d2d2d2;font-weight:bold;letter-spacing:0.300px;">United Kingdom</div>
<div class="t" style="left:1068.70px;top:500.44px;font-size:13.3px;color:#c6c6c6;letter-spacing:0.720px;">Nro Confirmados:</div>
<div class="t" style="left:1187.70px;top:500.44px;font-size:13.3px;color:#d2d2d2;font-weight:bold;letter-spacing:0.794px;">18.676.357</div>
<div class="t" style="left:1068.70px;top:517.34px;font-size:13.3px;color:#c6c6c6;letter-spacing:0.537px;">Nro Fallecidos:</div>
<div class="t" style="left:1168.90px;top:517.34px;font-size:13.3px;color:#d2d2d2;font-weight:bold;letter-spacing:0.794px;">160.946</div>
<div class="t" style="left:1068.70px;top:534.24px;font-size:13.3px;color:#c6c6c6;letter-spacing:0.566px;">Nro Recuperados:</div>
<div class="t" style="left:1068.70px;top:562.54px;font-size:13.3px;color:#c6c6c6;letter-spacing:-0.017px;">Pais:</div>
<div class="t" style="left:1101.60px;top:562.54px;font-size:13.3px;color:#d2d2d2;font-weight:bold;letter-spacing:0.300px;">Russia</div>
<div class="t" style="left:1068.70px;top:579.44px;font-size:13.3px;color:#c6c6c6;letter-spacing:0.720px;">Nro Confirmados:</div>
<div class="t" style="left:1187.70px;top:579.44px;font-size:13.3px;color:#d2d2d2;font-weight:bold;letter-spacing:0.794px;">14.802.439</div>
<div class="t" style="left:1068.70px;top:596.34px;font-size:13.3px;color:#c6c6c6;letter-spacing:0.537px;">Nro Fallecidos:</div>
<div class="t" style="left:1168.90px;top:596.34px;font-size:13.3px;color:#d2d2d2;font-weight:bold;letter-spacing:0.794px;">337.074</div>
<div class="t" style="left:1068.70px;top:613.24px;font-size:13.3px;color:#c6c6c6;letter-spacing:0.566px;">Nro Recuperados:</div>
<div class="t" style="left:1068.70px;top:641.54px;font-size:13.3px;color:#c6c6c6;letter-spacing:-0.017px;">Pais:</div>
<div class="t" style="left:1101.60px;top:641.54px;font-size:13.3px;color:#d2d2d2;font-weight:bold;letter-spacing:0.300px;">Germany</div>
<div class="t" style="left:1068.70px;top:658.44px;font-size:13.3px;color:#c6c6c6;letter-spacing:0.720px;">Nro Confirmados:</div>
<div class="t" style="left:1187.70px;top:658.44px;font-size:13.3px;color:#d2d2d2;font-weight:bold;letter-spacing:0.794px;">13.361.053</div>
<div class="t" style="left:1068.70px;top:675.34px;font-size:13.3px;color:#c6c6c6;letter-spacing:0.537px;">Nro Fallecidos:</div>
<div class="t" style="left:1168.90px;top:675.34px;font-size:13.3px;color:#d2d2d2;font-weight:bold;letter-spacing:0.794px;">121.038</div>
<div class="t" style="left:1068.70px;top:692.24px;font-size:13.3px;color:#c6c6c6;letter-spacing:0.566px;">Nro Recuperados:</div>
<div class="t" style="left:1068.70px;top:720.54px;font-size:13.3px;color:#c6c6c6;letter-spacing:-0.017px;">Pais:</div>
<div class="t" style="left:1101.60px;top:720.54px;font-size:13.3px;color:#d2d2d2;font-weight:bold;letter-spacing:0.300px;">Turkey</div>
<div class="t" style="left:1068.70px;top:737.44px;font-size:13.3px;color:#c6c6c6;letter-spacing:0.720px;">Nro Confirmados:</div>
<div class="t" style="left:1187.70px;top:737.44px;font-size:13.3px;color:#d2d2d2;font-weight:bold;letter-spacing:0.794px;">13.353.676</div>
<div class="t" style="left:1068.70px;top:754.34px;font-size:13.3px;color:#c6c6c6;letter-spacing:0.537px;">Nro Fallecidos:</div>
<div class="t" style="left:1168.90px;top:754.34px;font-size:13.3px;color:#d2d2d2;font-weight:bold;letter-spacing:0.794px;">91.910</div>
<div class="t" style="left:1068.70px;top:771.24px;font-size:13.3px;color:#c6c6c6;letter-spacing:0.566px;">Nro Recuperados:</div>
<div class="t" style="left:1068.70px;top:799.54px;font-size:13.3px;color:#c6c6c6;letter-spacing:-0.017px;">Pais:</div>
<div class="t" style="left:1101.60px;top:799.54px;font-size:13.3px;color:#d2d2d2;font-weight:bold;letter-spacing:0.300px;">Italy</div>
<div class="t" style="left:1068.70px;top:816.44px;font-size:13.3px;color:#c6c6c6;letter-spacing:0.720px;">Nro Confirmados:</div>
<div class="t" style="left:1187.70px;top:816.44px;font-size:13.3px;color:#d2d2d2;font-weight:bold;letter-spacing:0.794px;">12.377.098</div>
<div class="t" style="left:1068.70px;top:833.34px;font-size:13.3px;color:#c6c6c6;letter-spacing:0.537px;">Nro Fallecidos:</div>
<div class="t" style="left:1168.90px;top:833.34px;font-size:13.3px;color:#d2d2d2;font-weight:bold;letter-spacing:0.794px;">153.190</div>
<div class="t" style="left:1068.70px;top:850.24px;font-size:13.3px;color:#c6c6c6;letter-spacing:0.566px;">Nro Recuperados:</div>
<div class="t" style="left:555.60px;top:808.82px;font-size:11.2px;color:#c8c8c8;letter-spacing:0.022px;">Esri, HERE, Garmin, USGS | Esri, HERE</div>
<div class="t" style="left:957.00px;top:808.82px;font-size:11.2px;color:#c8c8c8;letter-spacing:0.402px;">Powered by Esri</div>
</div></body></html>
